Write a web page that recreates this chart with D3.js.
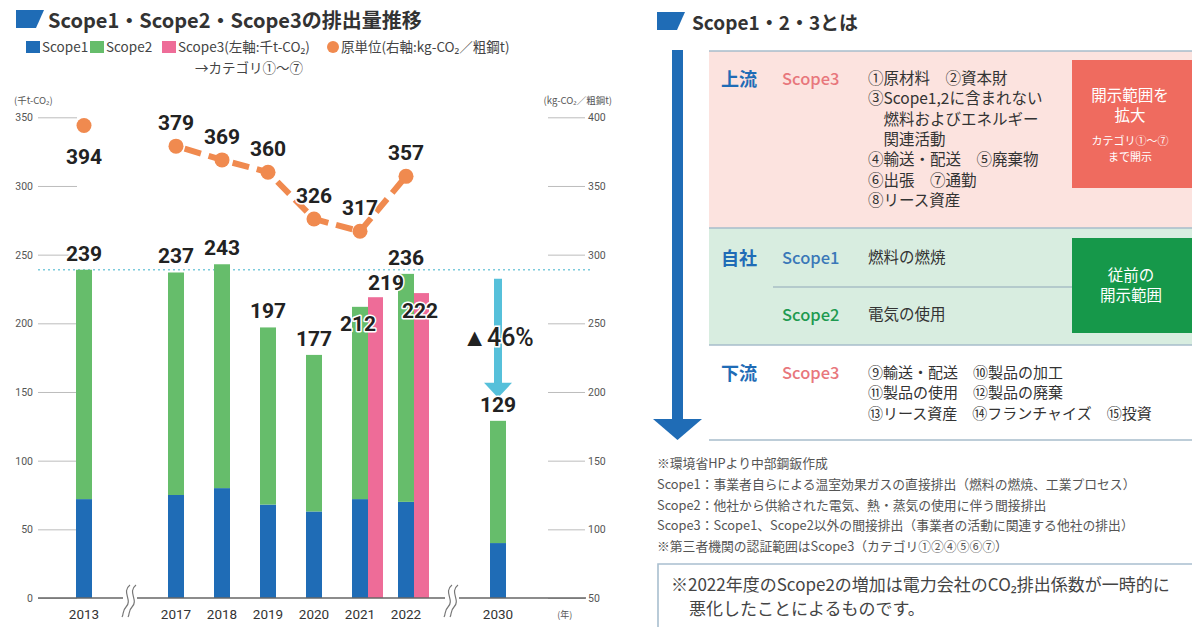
<!DOCTYPE html>
<html><head><meta charset="utf-8">
<script src="https://cdn.jsdelivr.net/npm/d3@7"></script>
<style>
body{margin:0;background:#fff;}
svg{display:block;font-family:"Noto Sans CJK JP","Noto Sans",sans-serif;}
.num{font-family:Roboto,"DejaVu Sans",sans-serif;font-weight:700;fill:#222;paint-order:stroke;stroke:#fff;stroke-width:3px;stroke-linejoin:round;}
</style></head>
<body>
<svg id="c" width="1192" height="627"></svg>
<script>
// ---- data ----
const slots = ["2013","gap1","2017","2018","2019","2020","2021","2022","gap2","2030"];
const years = ["2013","2017","2018","2019","2020","2021","2022","2030"];
const scope1 = [72,75,80,68,63,72,70,40];
const scope2 = [167,162,163,129,114,140,166,89];
const totals = [239,237,243,197,177,212,236,129];
const scope3Years = ["2021","2022"];
const scope3 = [219,222];
const intensityYears = ["2013","2017","2018","2019","2020","2021","2022"];
const intensity = [394,379,369,360,326,317,357];
const leftTicks = [0,50,100,150,200,250,300,350];
const rightTicks = [50,100,150,200,250,300,350,400];
const reduction = "▲46%";

const C = {blue:"#1f6cb6", green:"#66bd6b", pink:"#ee6c98", orange:"#f08a4f", cyan:"#56c0da"};
const svg = d3.select("#c");

// ---- scales ----
const x = d3.scalePoint().domain(slots).range([84, 498]);
const yL = d3.scaleLinear().domain([0,350]).range([598,117.3]);
const yR = d3.scaleLinear().domain([50,400]).range([598,117.3]);
const bw = 16;

// ---- title / legend ----
function para(g, x0, y0){
  g.append("path").attr("d",`M${x0},${y0} L${x0+28},${y0} L${x0+20},${y0+18} L${x0},${y0+18} Z`).attr("fill",C.blue);
}
para(svg, 16, 10);
svg.append("text").attr("x",48).attr("y",28).attr("font-size",20).attr("font-weight",700).attr("fill","#333")
  .text("Scope1・Scope2・Scope3の排出量推移");

const lg = svg.append("g").attr("font-size",13.5).attr("fill","#444");
const legendItems = [
  {c:C.blue, t:"Scope1", x:26},
  {c:C.green, t:"Scope2", x:90},
  {c:C.pink, t:"Scope3(左軸:千t-CO₂)", x:162}
];
legendItems.forEach(d=>{
  lg.append("rect").attr("x",d.x).attr("y",41).attr("width",14).attr("height",12).attr("fill",d.c);
  lg.append("text").attr("x",d.x+16).attr("y",52).text(d.t);
});
lg.append("circle").attr("cx",333).attr("cy",47).attr("r",6).attr("fill",C.orange);
lg.append("text").attr("x",341).attr("y",52).text("原単位(右軸:kg-CO₂／粗鋼t)");
lg.append("text").attr("x",195).attr("y",73).text("→カテゴリ①〜⑦");

svg.append("text").attr("x",14).attr("y",104).attr("font-size",9.5).attr("fill","#555").text("(千t-CO₂)");
svg.append("text").attr("x",612).attr("y",104).attr("text-anchor","end").attr("font-size",9.5).attr("fill","#555").text("(kg-CO₂／粗鋼t)");

// ---- axes ----
const axL = svg.append("g").attr("transform","translate(77,0)")
  .call(d3.axisLeft(yL).tickValues(leftTicks).tickSize(39).tickPadding(5));
const axR = svg.append("g").attr("transform","translate(548,0)")
  .call(d3.axisRight(yR).tickValues(rightTicks).tickSize(37).tickPadding(3));
[axL,axR].forEach(a=>{
  a.select(".domain").remove();
  a.selectAll(".tick line").attr("stroke","#bdbdbd");
  a.selectAll(".tick text").attr("fill","#555").attr("font-size",10.5).attr("font-family","Roboto,sans-serif");
});

// reference dotted line at 2013 total
svg.append("line").attr("x1",38).attr("x2",590).attr("y1",yL(totals[0])).attr("y2",yL(totals[0]))
  .attr("stroke","#7ccbdc").attr("stroke-width",1.6).attr("stroke-dasharray","2,3");

// ---- bars ----
const bars = svg.append("g");
years.forEach((yr,i)=>{
  const cx = x(yr);
  bars.append("rect").attr("x",cx-bw/2).attr("width",bw).attr("y",yL(scope1[i])).attr("height",yL(0)-yL(scope1[i])).attr("fill",C.blue);
  bars.append("rect").attr("x",cx-bw/2).attr("width",bw).attr("y",yL(scope1[i]+scope2[i])).attr("height",yL(scope1[i])-yL(scope1[i]+scope2[i])).attr("fill",C.green);
});
scope3Years.forEach((yr,i)=>{
  bars.append("rect").attr("x",x(yr)+bw/2).attr("width",bw-1).attr("y",yL(scope3[i])).attr("height",yL(0)-yL(scope3[i])).attr("fill",C.pink);
});

// baseline
svg.append("line").attr("x1",38).attr("x2",586).attr("y1",598).attr("y2",598).attr("stroke","#666").attr("stroke-width",1.4);

// break marks
["gap1","gap2"].forEach(g=>{
  const cx = x(g);
  svg.append("rect").attr("x",cx-7).attr("y",590).attr("width",14).attr("height",16).attr("fill","#fff");
  [-3,3].forEach(o=>{
    svg.append("path").attr("d",`M${cx+o+3},585 C${cx+o-6},592 ${cx+o+6},600 ${cx+o-1},607 C${cx+o-5},611 ${cx+o-3},614 ${cx+o-5},617`)
      .attr("fill","none").attr("stroke","#777").attr("stroke-width",1.2);
  });
});

// year labels
const xl = svg.append("g").attr("font-family","Roboto,sans-serif").attr("font-size",13.5).attr("fill","#333").attr("text-anchor","middle");
years.forEach(yr=>xl.append("text").attr("x",x(yr)).attr("y",619).text(yr));
svg.append("text").attr("x",x("2030")+(x("2030")-x("gap2"))*1.45).attr("y",618).attr("font-size",9).attr("fill","#555").attr("text-anchor","middle").text("(年)");

// ---- reduction arrow ----
const ax = x("2030");
svg.append("rect").attr("x",ax-4).attr("y",yL(totals[0])+9).attr("width",8).attr("height",yL(totals[7])-yL(totals[0])-45).attr("fill",C.cyan);
svg.append("path").attr("d",`M${ax-14},${yL(totals[7])-38} L${ax+14},${yL(totals[7])-38} L${ax},${yL(totals[7])-23} Z`).attr("fill",C.cyan);
svg.append("text").attr("x",ax).attr("y",346).attr("text-anchor","middle").attr("font-size",25).attr("font-weight",500)
  .attr("font-family","Roboto,sans-serif").attr("fill","#222").attr("stroke","#fff").attr("stroke-width",3)
  .style("paint-order","stroke").text(reduction);

// ---- intensity line ----
const lineYears = intensityYears.slice(1), lineVals = intensity.slice(1);
svg.append("path").datum(lineVals.map((v,i)=>[x(lineYears[i]),yR(v)]))
  .attr("d",d3.line()).attr("fill","none").attr("stroke",C.orange).attr("stroke-width",6).attr("stroke-dasharray","17,8").attr("stroke-dashoffset",-9);
intensityYears.forEach((yr,i)=>{
  svg.append("circle").attr("cx",x(yr)).attr("cy",yR(intensity[i])).attr("r",7.5).attr("fill",C.orange);
});
intensityYears.forEach((yr,i)=>{
  const below = i===0;
  svg.append("text").attr("class","num").attr("x",x(yr)).attr("y",below?yR(intensity[i])+38:yR(intensity[i])-16)
    .attr("text-anchor","middle").attr("font-size",21).text(intensity[i]);
});

// ---- bar labels ----
years.forEach((yr,i)=>{
  let dx = 0, dy = -9;
  if (yr==="2021"){ dx=-2; dy = 24; }
  svg.append("text").attr("class","num").attr("x",x(yr)+dx).attr("y",yL(totals[i])+dy).attr("text-anchor","middle").attr("font-size",21).text(totals[i]);
});
scope3Years.forEach((yr,i)=>{
  const dy = yr==="2021" ? -7 : 25;
  const dx = yr==="2021" ? 26 : 14;
  svg.append("text").attr("class","num").attr("x",x(yr)+dx).attr("y",yL(scope3[i])+dy).attr("text-anchor","middle").attr("font-size",21).text(scope3[i]);
});

// ---- right panel ----
para(svg, 657, 12);
svg.append("text").attr("x",692).attr("y",30).attr("font-size",19).attr("font-weight",700).attr("fill","#333").text("Scope1・2・3とは");

// sections
const rp = svg.append("g");
rp.append("rect").attr("x",709).attr("y",51).attr("width",483).attr("height",177).attr("fill","#fce3df");
rp.append("rect").attr("x",709).attr("y",228).attr("width",483).attr("height",117).attr("fill","#d8ede0");
[51,228,345,440].forEach(yy=>rp.append("line").attr("x1",709).attr("x2",1192).attr("y1",yy).attr("y2",yy).attr("stroke","#a7bccb").attr("stroke-width",1.6));
rp.append("line").attr("x1",773).attr("x2",1072).attr("y1",287).attr("y2",287).attr("stroke","#8fa8b8").attr("stroke-width",1.2);

// big arrow
rp.append("rect").attr("x",672).attr("y",50).attr("width",11).attr("height",372).attr("fill",C.blue);
rp.append("path").attr("d","M653,419 L702,419 L677.5,440 Z").attr("fill",C.blue);

// boxes
rp.append("rect").attr("x",1072).attr("y",60).attr("width",120).attr("height",128).attr("fill","#ef6b5f");
rp.append("rect").attr("x",1072).attr("y",238).attr("width",120).attr("height",95).attr("fill","#16984a");
const bt = rp.append("g").attr("fill","#fff").attr("text-anchor","middle");
bt.append("text").attr("x",1130).attr("y",101).attr("font-size",15.5).text("開示範囲を");
bt.append("text").attr("x",1130).attr("y",121).attr("font-size",15.5).text("拡大");
bt.append("text").attr("x",1130).attr("y",145).attr("font-size",11).text("カテゴリ①〜⑦");
bt.append("text").attr("x",1130).attr("y",161).attr("font-size",11).text("まで開示");
bt.append("text").attr("x",1131).attr("y",281).attr("font-size",15.5).text("従前の");
bt.append("text").attr("x",1131).attr("y",301).attr("font-size",15.5).text("開示範囲");

// row labels
const rows = [
  {h:"上流", s:"Scope3", sc:"#e8777c", y:86},
  {h:"自社", s:"Scope1", sc:"#3a78b8", y:265},
  {h:null, s:"Scope2", sc:"#1e9a50", y:322},
  {h:"下流", s:"Scope3", sc:"#e8777c", y:380}
];
rows.forEach(r=>{
  if(r.h) rp.append("text").attr("x",721).attr("y",r.y).attr("font-size",18).attr("font-weight",700).attr("fill",C.blue).text(r.h);
  rp.append("text").attr("x",782).attr("y",r.y-1).attr("font-size",16.5).attr("font-weight",500).attr("fill",r.sc).text(r.s);
});
const lt = rp.append("g").attr("font-size",15.5).attr("fill","#333");
const upLines = ["①原材料　②資本財","③Scope1,2に含まれない","　燃料およびエネルギー","　関連活動","④輸送・配送　⑤廃棄物","⑥出張　⑦通勤","⑧リース資産"];
upLines.forEach((t,i)=>lt.append("text").attr("x",868).attr("y",84+i*20.3).text(t));
lt.append("text").attr("x",868).attr("y",263).text("燃料の燃焼");
lt.append("text").attr("x",868).attr("y",320).text("電気の使用");
const downLines = ["⑨輸送・配送　⑩製品の加工","⑪製品の使用　⑫製品の廃棄","⑬リース資産　⑭フランチャイズ　⑮投資"];
downLines.forEach((t,i)=>lt.append("text").attr("x",868).attr("y",378+i*20.3).attr("font-size",15).text(t));

// notes
const notes = ["※環境省HPより中部鋼鈑作成",
 "Scope1：事業者自らによる温室効果ガスの直接排出（燃料の燃焼、工業プロセス）",
 "Scope2：他社から供給された電気、熱・蒸気の使用に伴う間接排出",
 "Scope3：Scope1、Scope2以外の間接排出（事業者の活動に関連する他社の排出）",
 "※第三者機関の認証範囲はScope3（カテゴリ①②④⑤⑥⑦）"];
const ng = svg.append("g").attr("font-size",12.8).attr("fill","#555");
notes.forEach((t,i)=>ng.append("text").attr("x",657).attr("y",468+i*20.8).text(t));

svg.append("path").attr("d","M1192,564 L658,564 L658,627").attr("fill","none").attr("stroke","#a9bfcf").attr("stroke-width",1.6);
svg.append("text").attr("x",671).attr("y",591).attr("font-size",17).attr("fill","#444").text("※2022年度のScope2の増加は電力会社のCO₂排出係数が一時的に");
svg.append("text").attr("x",689).attr("y",615).attr("font-size",17).attr("fill","#444").text("悪化したことによるものです。");
</script>
</body></html>
